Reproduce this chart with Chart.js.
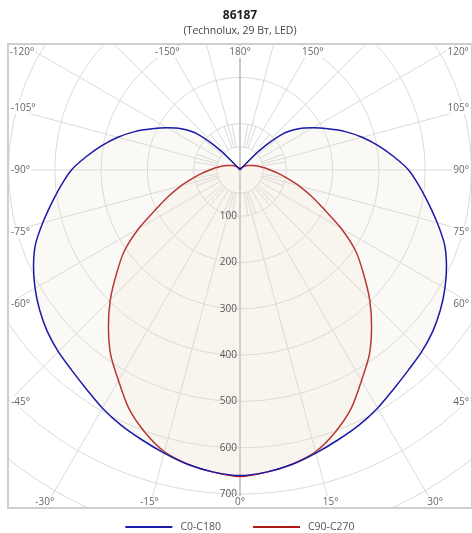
<!DOCTYPE html>
<html>
<head>
<meta charset="utf-8">
<script src="https://cdn.jsdelivr.net/npm/chart.js@4.4.0/dist/chart.umd.min.js"></script>
<style>
	html, body { margin: 0; padding: 0; overflow: hidden; background: #fff; }
</style>
</head>
<body>
<canvas id="kss" width="480" height="533"></canvas>
<script>
// Polar angles (degrees from nadir) and intensities (cd) per half-plane
const angles = [0, 5, 10, 15, 20, 25, 30, 35, 40, 45, 50, 55, 60, 65, 70, 75, 80, 85, 90,
	95, 100, 105, 110, 115, 120, 125, 130, 135, 140, 145, 150, 155, 160, 165, 170, 175, 180];

const c0 = [660, 655, 646, 633, 620, 608, 594, 578, 565, 555, 543, 528, 511, 492, 470, 441, 413, 388, 364,
	333, 303, 273, 242, 210, 182, 155, 122, 60, 3, 2, 2, 2, 1, 1, 1, 1, 1];
const c180 = [660, 655, 646, 633, 620, 608, 594, 578, 565, 555, 543, 528, 511, 492, 470, 441, 413, 388, 364,
	333, 303, 273, 242, 210, 182, 155, 122, 60, 3, 2, 2, 2, 1, 1, 1, 1, 1];
const c90 = [662, 655, 645, 630, 602, 568, 525, 487, 442, 396, 348, 305, 252, 200, 163, 132, 104, 83, 65,
	53, 43, 35, 28, 23, 19, 16, 13, 10, 8, 6, 5, 4, 3, 2, 1, 1, 0];
const c270 = [662, 655, 645, 630, 602, 568, 525, 487, 442, 396, 348, 305, 252, 200, 163, 132, 104, 83, 65,
	53, 43, 35, 28, 23, 19, 16, 13, 10, 8, 6, 5, 4, 3, 2, 1, 1, 0];

const ringValues = [50, 100, 200, 300, 400, 500, 600, 700, 800, 900];
const ringLabels = [100, 200, 300, 400, 500, 600, 700];
const angleLabels = [0, 15, 30, 45, 60, 75, 90, 105, 120, 150, 180, -150, -120, -105, -90, -75, -60, -45, -30, -15];

const FONT = "'Open Sans', sans-serif";

// left half-plane (negative x) from 180 down to 0, then right half-plane 0 -> 180
const toPoints = (left, right) => {
	const pts = [];
	for (let i = angles.length - 1; i >= 0; i--) {
		const a = (angles[i] * Math.PI) / 180;
		pts.push({ x: -left[i] * Math.sin(a), y: -left[i] * Math.cos(a) });
	}
	for (let i = 1; i < angles.length; i++) {
		const a = (angles[i] * Math.PI) / 180;
		pts.push({ x: right[i] * Math.sin(a), y: -right[i] * Math.cos(a) });
	}
	return pts;
};

const spoke = (ctx, cx, cy, a, r0, r1) => {
	const s = Math.sin((a * Math.PI) / 180);
	const c = Math.cos((a * Math.PI) / 180);
	ctx.beginPath();
	ctx.moveTo(cx + s * r0, cy + c * r0);
	ctx.lineTo(cx + s * r1, cy + c * r1);
	ctx.stroke();
};

const polarGrid = {
	id: "polarGrid",
	beforeDatasetsDraw(chart) {
		const { ctx, chartArea: area, scales } = chart;
		const cx = scales.x.getPixelForValue(0);
		const cy = scales.y.getPixelForValue(0);
		const k = (scales.x.getPixelForValue(100) - cx) / 100;

		ctx.save();
		ctx.beginPath();
		ctx.rect(area.left, area.top, area.width, area.height);
		ctx.clip();

		ctx.strokeStyle = "#dadada";
		ctx.lineWidth = 1;
		ringValues.forEach((v) => {
			ctx.beginPath();
			ctx.arc(cx, cy, v * k, 0, 2 * Math.PI);
			ctx.stroke();
		});

		// short spokes in the inner ring
		for (let a = -170; a <= 180; a += 10) {
			if (a % 30 === 0) continue;
			spoke(ctx, cx, cy, a, 50 * k, 100 * k);
		}
		// long spokes
		for (let a = -165; a < 180; a += 15) {
			if (a === 0) continue;
			spoke(ctx, cx, cy, a, 50 * k, 1200 * k);
		}

		// 0-180 axis
		ctx.strokeStyle = "#b9b9b9";
		ctx.lineWidth = 1.5;
		ctx.beginPath();
		ctx.moveTo(cx, area.top);
		ctx.lineTo(cx, area.bottom);
		ctx.stroke();
		ctx.restore();
	},
	afterDatasetsDraw(chart) {
		const { ctx, chartArea: area, scales } = chart;
		const cx = scales.x.getPixelForValue(0);
		const cy = scales.y.getPixelForValue(0);
		const k = (scales.x.getPixelForValue(100) - cx) / 100;

		ctx.save();
		ctx.font = "10px " + FONT;
		ctx.textBaseline = "middle";

		// intensity labels along the nadir axis
		ctx.fillStyle = "#555";
		ctx.textAlign = "right";
		ringLabels.forEach((v) => {
			ctx.fillText(String(v), cx - 3, cy + v * k);
		});

		// angle labels where the spokes meet the frame
		angleLabels.forEach((a) => {
			const s = Math.sin((a * Math.PI) / 180);
			const c = Math.cos((a * Math.PI) / 180);
			const tx = s > 1e-9 ? (area.right - cx) / s : s < -1e-9 ? (area.left - cx) / s : Infinity;
			const ty = c > 1e-9 ? (area.bottom - cy) / c : c < -1e-9 ? (area.top - cy) / c : Infinity;
			const text = a + "°";
			const w = ctx.measureText(text).width;
			let x, y;
			if (tx < ty) {
				y = cy + c * tx;
				x = s < 0 ? area.left + 3 : area.right - 3 - w;
			} else {
				x = cx + s * ty - w / 2;
				y = c < 0 ? area.top + 8 : area.bottom - 6;
			}
			ctx.fillStyle = "#fff";
			ctx.fillRect(x - 1, y - 6, w + 2, 12);
			ctx.fillStyle = "#666";
			ctx.textAlign = "left";
			ctx.fillText(text, x, y);
		});

		// frame
		ctx.strokeStyle = "#cfcfcf";
		ctx.lineWidth = 2;
		ctx.strokeRect(area.left, area.top, area.width, area.height);
		ctx.restore();
	},
	afterDraw(chart) {
		// legend row
		const { ctx, data } = chart;
		const boxW = 47;
		const gap = 8;
		const spacing = 32;
		ctx.save();
		ctx.font = "10.5px " + FONT;
		ctx.textBaseline = "middle";
		ctx.textAlign = "left";
		const items = data.datasets.map((d) => ({
			text: d.label,
			color: d.borderColor,
			w: boxW + gap + ctx.measureText(d.label).width,
		}));
		const total = items.reduce((s, it) => s + it.w, 0) + spacing * (items.length - 1);
		let x = (chart.chartArea.left + chart.chartArea.right) / 2 - total / 2;
		const y = 527;
		items.forEach((it) => {
			ctx.strokeStyle = it.color;
			ctx.lineWidth = 2;
			ctx.beginPath();
			ctx.moveTo(x, y);
			ctx.lineTo(x + boxW, y);
			ctx.stroke();
			ctx.fillStyle = "#555";
			ctx.fillText(it.text, x + boxW + gap, y);
			x += it.w + spacing;
		});
		ctx.restore();
	},
};

new Chart(document.getElementById("kss"), {
	type: "scatter",
	data: {
		datasets: [
			{
				label: "C0-C180",
				data: toPoints(c180, c0),
				showLine: true,
				fill: "shape",
				tension: 0.3,
				backgroundColor: "rgba(228, 218, 196, 0.16)",
				borderColor: "#1a1aa8",
				borderWidth: 1.5,
				pointRadius: 0,
			},
			{
				label: "C90-C270",
				data: toPoints(c270, c90),
				showLine: true,
				fill: "shape",
				tension: 0.3,
				backgroundColor: "rgba(228, 218, 196, 0.16)",
				borderColor: "#b01818",
				borderWidth: 1.5,
				pointRadius: 0,
			},
		],
	},
	options: {
		responsive: false,
		animation: false,
		layout: { padding: { left: 8, right: 8, top: 0, bottom: 25 } },
		scales: {
			x: { type: "linear", min: -501, max: 501, display: false },
			y: { type: "linear", min: -730, max: 272, display: false },
		},
		plugins: {
			title: {
				display: true,
				text: "86187",
				color: "#222",
				font: { family: FONT, size: 12, weight: "bold" },
				padding: { top: 8, bottom: 2 },
			},
			subtitle: {
				display: true,
				text: "(Technolux, 29 Вт, LED)",
				color: "#444",
				font: { family: FONT, size: 10.5 },
				padding: { top: 0, bottom: 7 },
			},
			legend: { display: false },
			tooltip: { enabled: false },
		},
	},
	plugins: [polarGrid],
});
</script>
</body>
</html>
